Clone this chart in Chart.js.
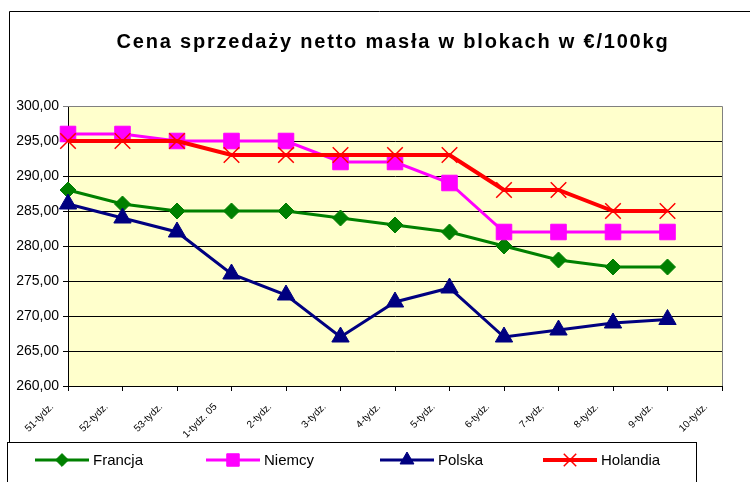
<!DOCTYPE html>
<html>
<head>
<meta charset="utf-8">
<script src="https://cdn.jsdelivr.net/npm/chart.js@4"></script>
<style>
  body { margin: 0; background: #fff; }
  canvas { display: block; }
</style>
</head>
<body>
<canvas id="chart" width="750" height="482"></canvas>
<script>
// Data
const weeks = ["51-tydz.", "52-tydz.", "53-tydz.", "1-tydz. 05", "2-tydz.", "3-tydz.", "4-tydz.",
               "5-tydz.", "6-tydz.", "7-tydz.", "8-tydz.", "9-tydz.", "10-tydz."];
const francja  = [288, 286, 285, 285, 285, 284, 283, 282, 280, 278, 277, 277, null];
const niemcy   = [296, 296, 295, 295, 295, 292, 292, 289, 282, 282, 282, 282, null];
const polska   = [286, 284, 282, 276, 273, 267, 272, 274, 267, 268, 269, 269.5, null];
const holandia = [295, 295, 295, 293, 293, 293, 293, 293, 288, 288, 285, 285, null];

const FONT = "Arial, 'Liberation Sans', sans-serif";

const series = [
    {label: "Francja",  data: francja,  color: "#008000", style: "rectRot",  radius: 8,  width: 3, order: 3},
    {label: "Niemcy",   data: niemcy,   color: "#FF00FF", style: "rect",     radius: 11, width: 3, order: 2},
    {label: "Polska",   data: polska,   color: "#000080", style: "triangle", radius: 10, width: 3, order: 1},
    {label: "Holandia", data: holandia, color: "#FF0000", style: "crossRot", radius: 11, width: 4, order: 0},
];

// Frame, plot background, title and boxed legend
const excelLook = {
    id: "excelLook",
    beforeDraw(chart) {
        let ctx = chart.ctx;
        let a = chart.chartArea;
        ctx.save();
        ctx.fillStyle = "#FFFFCC";
        ctx.fillRect(a.left, a.top, a.right - a.left, a.bottom - a.top);
        ctx.restore();
    },
    afterDatasetsDraw(chart) {
        let ctx = chart.ctx;
        let a = chart.chartArea;
        ctx.save();
        // grey plot border top/right
        ctx.strokeStyle = "#808080";
        ctx.lineWidth = 1;
        ctx.beginPath();
        ctx.moveTo(a.left, a.top + 0.5);
        ctx.lineTo(a.right + 0.5, a.top + 0.5);
        ctx.lineTo(a.right + 0.5, a.bottom);
        ctx.stroke();
        ctx.restore();
    },
    afterDraw(chart) {
        let ctx = chart.ctx;
        ctx.save();

        // outer chart frame
        ctx.strokeStyle = "#000";
        ctx.lineWidth = 1;
        ctx.beginPath();
        ctx.moveTo(9.5, 445);
        ctx.lineTo(9.5, 11.5);
        ctx.lineTo(750, 11.5);
        ctx.stroke();

        // title
        ctx.fillStyle = "#000";
        ctx.font = "bold 20px " + FONT;
        ctx.textAlign = "center";
        ctx.textBaseline = "middle";
        ctx.letterSpacing = "1.8px";
        ctx.fillText("Cena sprzedaży netto masła w blokach w €/100kg", 393, 42);
        ctx.letterSpacing = "0px";

        // legend box
        ctx.fillStyle = "#fff";
        ctx.fillRect(7.5, 442.5, 689, 50);
        ctx.strokeRect(7.5, 442.5, 689, 50);

        let xs = [62, 233, 407, 570];
        ctx.font = "15px " + FONT;
        ctx.textAlign = "left";
        series.forEach((s, i) => {
            let cx = xs[i], cy = 460;
            ctx.strokeStyle = s.color;
            ctx.lineWidth = s.width;
            ctx.beginPath();
            ctx.moveTo(cx - 27, cy);
            ctx.lineTo(cx + 27, cy);
            ctx.stroke();
            ctx.fillStyle = s.color;
            ctx.lineWidth = s.style === "crossRot" ? 1.5 : 1;
            Chart.helpers.drawPoint(ctx, {pointStyle: s.style, radius: s.radius * 0.8, borderWidth: ctx.lineWidth}, cx, cy);
            ctx.fillStyle = "#000";
            ctx.fillText(s.label, cx + 31, cy + 1);
        });
        ctx.restore();
    }
};

new Chart(document.getElementById("chart"), {
    type: "line",
    data: {
        labels: weeks,
        datasets: series.map(s => ({
            label: s.label,
            data: s.data,
            borderColor: s.color,
            backgroundColor: s.color,
            borderWidth: s.width,
            pointStyle: s.style,
            pointRadius: s.radius,
            pointBorderWidth: s.style === "crossRot" ? 1.5 : 1,
            pointBackgroundColor: s.color,
            pointBorderColor: s.color,
            tension: 0,
            clip: false,
            order: s.order,
        })),
    },
    options: {
        responsive: false,
        animation: false,
        layout: {padding: {top: 106, right: 28, left: 0, bottom: 0}},
        plugins: {
            legend: {display: false},
            title: {display: false},
            tooltip: {enabled: false},
        },
        scales: {
            x: {
                offset: false,
                afterFit: scale => { scale.height = 96; },
                border: {color: "#000", width: 1},
                grid: {drawOnChartArea: false, drawTicks: true, tickLength: 5, color: "#000"},
                ticks: {
                    autoSkip: false,
                    minRotation: 45,
                    maxRotation: 45,
                    padding: 10,
                    labelOffset: -16,
                    color: "#000",
                    font: {family: FONT, size: 10},
                },
            },
            y: {
                min: 260,
                max: 300,
                afterFit: scale => { scale.width = 68; },
                border: {color: "#000", width: 1},
                grid: {
                    color: ctx => ctx.tick && ctx.tick.value === 300 ? "#808080" : "#000",
                    tickLength: 5,
                },
                ticks: {
                    stepSize: 5,
                    padding: 4,
                    color: "#000",
                    font: {family: FONT, size: 14},
                    callback: v => v.toFixed(2).replace(".", ","),
                },
            },
        },
    },
    plugins: [excelLook],
});
</script>
</body>
</html>
